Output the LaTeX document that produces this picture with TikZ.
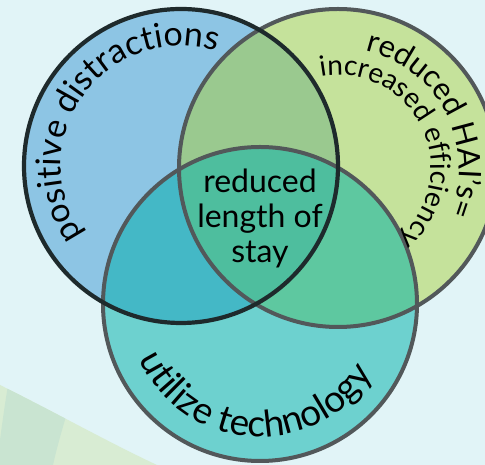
\documentclass[tikz,border=0pt]{standalone}
\usepackage{fontspec}
\setmainfont{Lato}
\usetikzlibrary{decorations.text,calc}

\definecolor{bgcyan}{HTML}{E1F4F7}
\definecolor{swlight}{HTML}{D8ECD3}
\definecolor{swdark}{HTML}{C9E4D1}
\definecolor{cblue}{HTML}{8DC5E4}
\definecolor{cgreen}{HTML}{C5E29B}
\definecolor{cteal}{HTML}{6DD1CF}
\definecolor{cbg}{HTML}{9AC98F}
\definecolor{cbt}{HTML}{44B8C6}
\definecolor{cgt}{HTML}{5EC8A0}
\definecolor{call}{HTML}{4EBE9E}
\definecolor{ringgray}{HTML}{52585A}
\definecolor{ringdark}{HTML}{1E2A2C}

\tikzset{
  ring/.style={draw=ringgray, line width=4pt},
  ringblue/.style={draw=ringdark, line width=4.2pt},
  arclabel/.style={decorate, decoration={text along path, text align=center,
      text format delimiters={|}{|}}},
}

\begin{document}
\begin{tikzpicture}[x=1pt,y=1pt]
\useasboundingbox (0,0) rectangle (485,465);
\fill[bgcyan] (0,0) rectangle (485,465);

% soft band in the lower left corner
\begin{scope}
  \clip (0,80) .. controls (60,50) and (110,22) .. (157,0) -- (0,0) -- cycle;
  \fill[swlight] (0,0) rectangle (160,85);
  \fill[swdark] (8,80) .. controls (4,55) and (2,40) .. (0,25) -- (0,0) -- (53,0)
     .. controls (57,18) and (62,35) .. (67,52) -- cycle;
\end{scope}

% circle centres and radii
\coordinate (cb) at (181,299);
\coordinate (cg) at (338,297);
\coordinate (ct) at (260,161);
\def\rb{157}
\def\rg{159}
\def\rt{157}

% region fills
\fill[cblue] (cb) circle[radius=\rb];
\fill[cgreen] (cg) circle[radius=\rg];
\fill[cteal] (ct) circle[radius=\rt];
\begin{scope}
  \clip (cb) circle[radius=\rb];
  \fill[cbg] (cg) circle[radius=\rg];
  \fill[cbt] (ct) circle[radius=\rt];
\end{scope}
\begin{scope}
  \clip (cg) circle[radius=\rg];
  \fill[cgt] (ct) circle[radius=\rt];
\end{scope}
\begin{scope}
  \clip (cb) circle[radius=\rb];
  \clip (cg) circle[radius=\rg];
  \fill[call] (ct) circle[radius=\rt];
\end{scope}

% outlines
\draw[ring] (cg) circle[radius=\rg];
\draw[ring] (ct) circle[radius=\rt];
\draw[ringblue] (cb) circle[radius=\rb];

% curved labels
\path[arclabel, decoration={text={|\fontsize{34}{34}\selectfont|positive distractions}}]
  ($(cb)+(234:120)$) arc[start angle=234, end angle=54, radius=120];
\path[arclabel, decoration={text={|\fontsize{31}{31}\selectfont|reduced HAI’s=}}]
  ($(cg)+(85:121)$) arc[start angle=85, end angle=-31, radius=121];
\path[arclabel, decoration={text={|\fontsize{28}{28}\selectfont|increased efficiency}}]
  ($(cg)+(108:93)$) arc[start angle=108, end angle=-57, radius=93];
\path[arclabel, decoration={text={|\fontsize{37}{37}\selectfont|utilize technology}}]
  ($(ct)+(190:133)$) arc[start angle=190, end angle=343, radius=133];

% centre label
\node[align=center, font=\fontsize{32}{35}\selectfont, inner sep=0pt] (core)
  at (260,247) {reduced\\length of\\stay};
\end{tikzpicture}
\end{document}
